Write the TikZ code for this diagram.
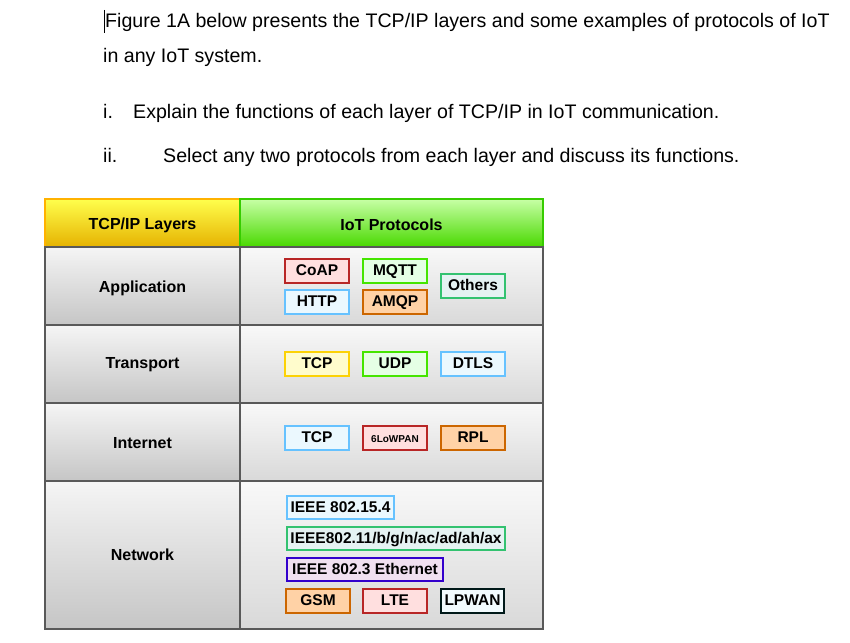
\documentclass[tikz,border=0pt]{standalone}
\usepackage{fontspec}
\setmainfont{Liberation Sans}
\begin{document}
\begin{tikzpicture}[x=1pt,y=-1pt,
  txt/.style={anchor=base west,inner sep=0,font=\fontsize{19.6}{22}\selectfont},
  hd/.style={font=\bfseries\fontsize{16}{18}\selectfont},
]
\useasboundingbox (0,0) rectangle (850,642);
\fill[white] (0,0) rectangle (850,642);
% question text
\node[txt] (t1) at (105,28) {Figure 1A below presents the TCP/IP layers and some examples of protocols of IoT};
\node[txt] (t2) at (103,63) {in any IoT system.};
\node[txt] (t3a) at (103,118) {i.};
\node[txt] (t3) at (133,118) {Explain the functions of each layer of TCP/IP in IoT communication.};
\node[txt] (t4a) at (103,162) {ii.};
\node[txt] (t4) at (163,162) {Select any two protocols from each layer and discuss its functions.};
\draw[line width=0.8pt] (104,10) -- (104,33);
% table
\shade[top color=yellow!70!white, bottom color=orange!45!yellow!90!black] (45,199) rectangle (240,247);
\shade[top color=lime!50!green!35!white, bottom color=green!55!lime!85!black] (240,199) rectangle (543,247);
\foreach \a/\b in {247/325,325/403,403/481,481/629}{
  \shade[top color=gray!8, bottom color=gray!45] (45,\a) rectangle (240,\b);
  \shade[top color=gray!5, bottom color=gray!30] (240,\a) rectangle (543,\b);
}
\draw[orange!60!yellow,line width=2.5pt] (45,199) rectangle (240,247);
\draw[green!65!lime!80!black,line width=2.5pt] (240,199) rectangle (543,247);
\draw[black!65,line width=2.5pt] (45,247) rectangle (543,629);
\foreach \y in {325,403,481} \draw[black!65,line width=2.5pt] (45,\y) -- (543,\y);
\draw[black!65,line width=2.5pt] (240,247) -- (240,629);
\node[hd] (h1) at (142.5,225) {TCP/IP Layers};
\node[hd] (h2) at (391.5,225) {IoT Protocols};
\node[hd] (l1) at (142.5,288) {Application};
\node[hd] (l2) at (142.5,365) {Transport};
\node[hd] (l3) at (142.5,443) {Internet};
\node[hd] (l4) at (142.5,555) {Network};
% protocol boxes
\colorlet{cR}{red!65!black!80!pink}\colorlet{fR}{pink!50}
\colorlet{cG}{green!60!lime!90!black}\colorlet{fG}{green!10}
\colorlet{cB}{blue!40!cyan!60}\colorlet{fB}{cyan!8}
\colorlet{cO}{orange!80!black}\colorlet{fO}{orange!35}
\colorlet{cY}{yellow!70!orange}\colorlet{fY}{yellow!20}
\colorlet{cT}{teal!60!green!80}\colorlet{fT}{teal!10}
\colorlet{cP}{blue!60!violet}\colorlet{fP}{violet!12}
\tikzset{pt/.style={draw=#1,line width=2pt,font=\bfseries\fontsize{15.5}{17}\selectfont,inner sep=0,minimum height=24pt,text height=11pt,text depth=2pt}}
\node[pt=cR,fill=fR,minimum width=64] (coap) at (317,271) {CoAP};
\node[pt=cG,fill=fG,minimum width=64] (mqtt) at (395,271) {MQTT};
\node[pt=cB,fill=fB,minimum width=64] (http) at (317,302) {HTTP};
\node[pt=cO,fill=fO,minimum width=64] (amqp) at (395,302) {AMQP};
\node[pt=cT,fill=fT,minimum width=64] (oth) at (473,286) {Others};
\node[pt=cY,fill=fY,minimum width=64] (tcp1) at (317,364) {TCP};
\node[pt=cG,fill=fG,minimum width=64] (udp) at (395,364) {UDP};
\node[pt=cB,fill=fB,minimum width=64] (dtls) at (473,364) {DTLS};
\node[pt=cB,fill=fB,minimum width=64] (tcp2) at (317,438) {TCP};
\node[pt=cR,fill=fR,minimum width=64,font=\bfseries\fontsize{10}{11}\selectfont] (lowpan) at (395,438) {6LoWPAN};
\node[pt=cO,fill=fO,minimum width=64] (rpl) at (473,438) {RPL};
\node[pt=cB,fill=fB,minimum width=107,minimum height=23,anchor=west,inner xsep=2pt] (i154) at (286,507.5) {IEEE 802.15.4};
\node[pt=cT,fill=fT,minimum width=218,minimum height=23,anchor=west,inner xsep=1pt] (i11) at (286,538.5) {IEEE802.11/b/g/n/ac/ad/ah/ax};
\node[pt=cP,fill=fP,minimum width=156,minimum height=23,anchor=west,inner xsep=2pt] (i3) at (286,569.5) {IEEE 802.3 Ethernet};
\node[pt=cO,fill=fO,minimum width=64] (gsm) at (318,601) {GSM};
\node[pt=cR,fill=fR,minimum width=64] (lte) at (395,601) {LTE};
\node[pt=black!80!teal,fill=cyan!5,minimum width=63] (lpwan) at (472.5,601) {LPWAN};
\end{tikzpicture}
\end{document}
